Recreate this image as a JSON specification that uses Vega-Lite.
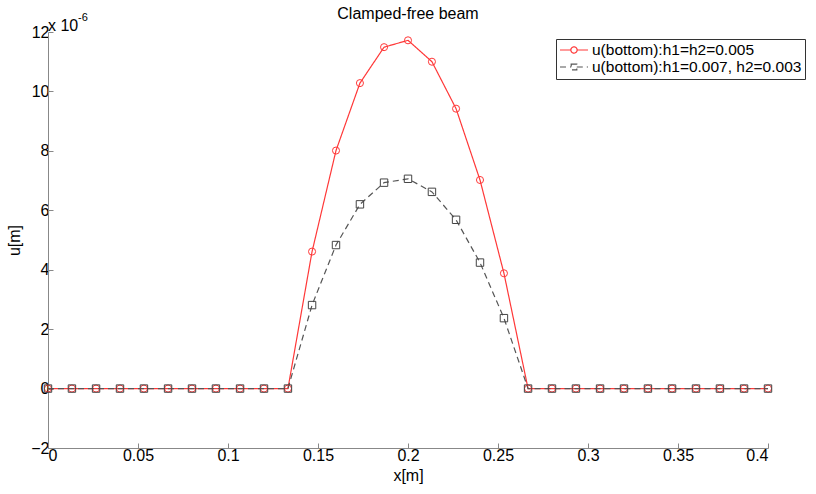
{
  "$schema": "https://vega.github.io/schema/vega-lite/v6.json",
  "width": 720,
  "height": 416,
  "autosize": {"type": "none"},
  "padding": {"left": 48, "top": 32, "right": 48, "bottom": 46},
  "background": "white",
  "config": {
    "font": "Liberation Sans",
    "view": {"stroke": null},
    "axis": {"grid": false, "domainColor": "#888", "tickColor": "#888", "tickSize": -5, "labelFont": "Liberation Sans", "labelFontSize": 16, "labelColor": "#000", "titleFont": "Liberation Sans", "titleFontSize": 16, "titleFontWeight": "normal", "titleColor": "#000"}
  },
  "title": {"text": "Clamped-free beam", "fontSize": 16, "fontWeight": "normal", "font": "Liberation Sans", "anchor": "middle", "offset": -10, "color": "#000"},
  "data": {"values": [
    {"x": 0, "u": 0, "s": "u(bottom):h1=h2=0.005"},
    {"x": 0.0133, "u": 0, "s": "u(bottom):h1=h2=0.005"},
    {"x": 0.0267, "u": 0, "s": "u(bottom):h1=h2=0.005"},
    {"x": 0.04, "u": 0, "s": "u(bottom):h1=h2=0.005"},
    {"x": 0.0533, "u": 0, "s": "u(bottom):h1=h2=0.005"},
    {"x": 0.0667, "u": 0, "s": "u(bottom):h1=h2=0.005"},
    {"x": 0.08, "u": 0, "s": "u(bottom):h1=h2=0.005"},
    {"x": 0.0933, "u": 0, "s": "u(bottom):h1=h2=0.005"},
    {"x": 0.1067, "u": 0, "s": "u(bottom):h1=h2=0.005"},
    {"x": 0.12, "u": 0, "s": "u(bottom):h1=h2=0.005"},
    {"x": 0.1333, "u": 0, "s": "u(bottom):h1=h2=0.005"},
    {"x": 0.1467, "u": 4.61, "s": "u(bottom):h1=h2=0.005"},
    {"x": 0.16, "u": 8.01, "s": "u(bottom):h1=h2=0.005"},
    {"x": 0.1733, "u": 10.28, "s": "u(bottom):h1=h2=0.005"},
    {"x": 0.1867, "u": 11.49, "s": "u(bottom):h1=h2=0.005"},
    {"x": 0.2, "u": 11.72, "s": "u(bottom):h1=h2=0.005"},
    {"x": 0.2133, "u": 11.0, "s": "u(bottom):h1=h2=0.005"},
    {"x": 0.2267, "u": 9.42, "s": "u(bottom):h1=h2=0.005"},
    {"x": 0.24, "u": 7.02, "s": "u(bottom):h1=h2=0.005"},
    {"x": 0.2533, "u": 3.88, "s": "u(bottom):h1=h2=0.005"},
    {"x": 0.2667, "u": 0, "s": "u(bottom):h1=h2=0.005"},
    {"x": 0.28, "u": 0, "s": "u(bottom):h1=h2=0.005"},
    {"x": 0.2933, "u": 0, "s": "u(bottom):h1=h2=0.005"},
    {"x": 0.3067, "u": 0, "s": "u(bottom):h1=h2=0.005"},
    {"x": 0.32, "u": 0, "s": "u(bottom):h1=h2=0.005"},
    {"x": 0.3333, "u": 0, "s": "u(bottom):h1=h2=0.005"},
    {"x": 0.3467, "u": 0, "s": "u(bottom):h1=h2=0.005"},
    {"x": 0.36, "u": 0, "s": "u(bottom):h1=h2=0.005"},
    {"x": 0.3733, "u": 0, "s": "u(bottom):h1=h2=0.005"},
    {"x": 0.3867, "u": 0, "s": "u(bottom):h1=h2=0.005"},
    {"x": 0.4, "u": 0, "s": "u(bottom):h1=h2=0.005"},
    {"x": 0, "u": 0, "s": "u(bottom):h1=0.007, h2=0.003"},
    {"x": 0.0133, "u": 0, "s": "u(bottom):h1=0.007, h2=0.003"},
    {"x": 0.0267, "u": 0, "s": "u(bottom):h1=0.007, h2=0.003"},
    {"x": 0.04, "u": 0, "s": "u(bottom):h1=0.007, h2=0.003"},
    {"x": 0.0533, "u": 0, "s": "u(bottom):h1=0.007, h2=0.003"},
    {"x": 0.0667, "u": 0, "s": "u(bottom):h1=0.007, h2=0.003"},
    {"x": 0.08, "u": 0, "s": "u(bottom):h1=0.007, h2=0.003"},
    {"x": 0.0933, "u": 0, "s": "u(bottom):h1=0.007, h2=0.003"},
    {"x": 0.1067, "u": 0, "s": "u(bottom):h1=0.007, h2=0.003"},
    {"x": 0.12, "u": 0, "s": "u(bottom):h1=0.007, h2=0.003"},
    {"x": 0.1333, "u": 0, "s": "u(bottom):h1=0.007, h2=0.003"},
    {"x": 0.1467, "u": 2.81, "s": "u(bottom):h1=0.007, h2=0.003"},
    {"x": 0.16, "u": 4.83, "s": "u(bottom):h1=0.007, h2=0.003"},
    {"x": 0.1733, "u": 6.2, "s": "u(bottom):h1=0.007, h2=0.003"},
    {"x": 0.1867, "u": 6.93, "s": "u(bottom):h1=0.007, h2=0.003"},
    {"x": 0.2, "u": 7.06, "s": "u(bottom):h1=0.007, h2=0.003"},
    {"x": 0.2133, "u": 6.62, "s": "u(bottom):h1=0.007, h2=0.003"},
    {"x": 0.2267, "u": 5.68, "s": "u(bottom):h1=0.007, h2=0.003"},
    {"x": 0.24, "u": 4.24, "s": "u(bottom):h1=0.007, h2=0.003"},
    {"x": 0.2533, "u": 2.37, "s": "u(bottom):h1=0.007, h2=0.003"},
    {"x": 0.2667, "u": 0, "s": "u(bottom):h1=0.007, h2=0.003"},
    {"x": 0.28, "u": 0, "s": "u(bottom):h1=0.007, h2=0.003"},
    {"x": 0.2933, "u": 0, "s": "u(bottom):h1=0.007, h2=0.003"},
    {"x": 0.3067, "u": 0, "s": "u(bottom):h1=0.007, h2=0.003"},
    {"x": 0.32, "u": 0, "s": "u(bottom):h1=0.007, h2=0.003"},
    {"x": 0.3333, "u": 0, "s": "u(bottom):h1=0.007, h2=0.003"},
    {"x": 0.3467, "u": 0, "s": "u(bottom):h1=0.007, h2=0.003"},
    {"x": 0.36, "u": 0, "s": "u(bottom):h1=0.007, h2=0.003"},
    {"x": 0.3733, "u": 0, "s": "u(bottom):h1=0.007, h2=0.003"},
    {"x": 0.3867, "u": 0, "s": "u(bottom):h1=0.007, h2=0.003"},
    {"x": 0.4, "u": 0, "s": "u(bottom):h1=0.007, h2=0.003"}
  ]},
  "encoding": {
    "x": {"field": "x", "type": "quantitative", "scale": {"domain": [0, 0.4], "nice": false, "zero": false}, "axis": {"values": [0, 0.05, 0.1, 0.15, 0.2, 0.25, 0.3, 0.35, 0.4], "format": "~g", "title": "x[m]", "titlePadding": 4, "labelPadding": 4}},
    "y": {"field": "u", "type": "quantitative", "scale": {"domain": [-2, 12], "nice": false}, "axis": {"values": [-2, 0, 2, 4, 6, 8, 10, 12], "title": "u[m]", "titlePadding": 8, "labelPadding": 4}}
  },
  "layer": [
    {
      "mark": {"type": "line", "strokeWidth": 1.2},
      "encoding": {
        "color": {"field": "s", "type": "nominal", "scale": {"domain": ["u(bottom):h1=h2=0.005", "u(bottom):h1=0.007, h2=0.003"], "range": ["#ff3838", "#555555"]},
          "legend": {"title": null, "orient": "none", "legendX": 508, "legendY": 7, "direction": "vertical", "strokeColor": "#333", "fillColor": "white", "padding": 3, "rowPadding": 0, "labelFontSize": 15.5, "labelFont": "Liberation Sans", "labelColor": "#000", "labelLimit": 400, "symbolSize": 196, "symbolStrokeWidth": 1.2, "symbolOffset": 7, "labelOffset": 10,
            "encode": {"symbols": {"update": {"shape": {"signal": "datum.value === 'u(bottom):h1=h2=0.005' ? 'M-2,0H-0.45M0.45,0H2M0.45,0A0.45,0.45 0 1,1 -0.45,0A0.45,0.45 0 1,1 0.45,0Z' : 'M-2,0H-0.4M0.4,0H2M-0.4,-0.4H0.4V0.4H-0.4Z'"}}}}}},
        "strokeDash": {"field": "s", "type": "nominal", "scale": {"domain": ["u(bottom):h1=h2=0.005", "u(bottom):h1=0.007, h2=0.003"], "range": [[1, 0], [6, 4]]}, "legend": null}
      }
    },
    {
      "transform": [{"filter": "datum.s === 'u(bottom):h1=h2=0.005'"}],
      "mark": {"type": "point", "filled": false, "size": 50, "strokeWidth": 1, "opacity": 1, "shape": "circle", "color": "#ff3838"}
    },
    {
      "transform": [{"filter": "datum.s === 'u(bottom):h1=0.007, h2=0.003'"}],
      "mark": {"type": "point", "filled": false, "size": 55, "strokeWidth": 1, "opacity": 1, "shape": "square", "color": "#444444"}
    },
    {
      "data": {"values": [{"x": 0, "u": 12, "t": "x 10"}]},
      "mark": {"type": "text", "align": "left", "baseline": "middle", "dx": 0, "dy": -6, "fontSize": 16, "font": "Liberation Sans", "color": "#000"},
      "encoding": {"text": {"field": "t"}}
    },
    {
      "data": {"values": [{"x": 0, "u": 12, "t": "-6"}]},
      "mark": {"type": "text", "align": "left", "baseline": "middle", "dx": 30, "dy": -14, "fontSize": 11, "font": "Liberation Sans", "color": "#000"},
      "encoding": {"text": {"field": "t"}}
    }
  ]
}
